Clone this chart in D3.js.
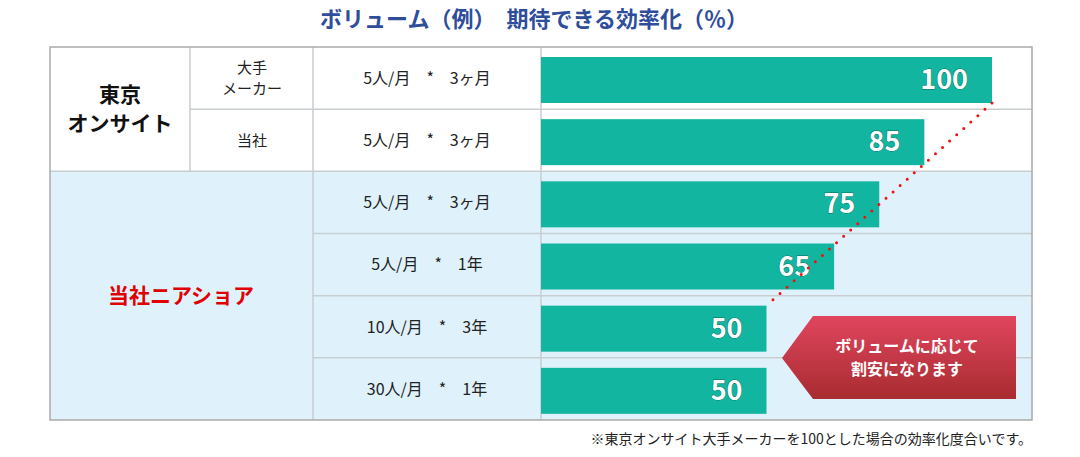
<!DOCTYPE html><html><head><meta charset="utf-8"><script src="https://cdn.jsdelivr.net/npm/d3@7"></script>
<style>body{margin:0;background:#fff}text{font-family:"Noto Sans CJK JP",sans-serif}</style></head><body><svg id="c" width="1080" height="457"></svg><script>
const groups=["東京\nオンサイト","当社ニアショア"];
const companies=["大手\nメーカー","当社","","","",""];
const conditions=["5人/月　*　3ヶ月","5人/月　*　3ヶ月","5人/月　*　3ヶ月","5人/月　*　1年","10人/月　*　3年","30人/月　*　1年"];
const values=[100,85,75,65,50,50];
const svg=d3.select("#c");
const rows=d3.range(values.length);
const y=d3.scaleBand().domain(rows).range([47,420]);
const x=d3.scaleLinear().domain([0,100]).range([541,992]);
const L=50,R=1032,c1=190,c2=313,c3=541;
svg.append("rect").attr("x",L).attr("y",y(2)).attr("width",R-L).attr("height",420-y(2)).attr("fill","#dff2fc");
const g=svg.append("g").attr("stroke","#c8cdd0").attr("stroke-width",1.5);
rows.slice(1).forEach(i=>{g.append("line").attr("x1",i<2?c1:c2).attr("x2",R).attr("y1",y(i)).attr("y2",y(i));});
g.append("line").attr("x1",L).attr("x2",c2).attr("y1",y(2)).attr("y2",y(2));
[[c1,47,y(2)],[c2,47,420],[c3,47,420]].forEach(d=>g.append("line").attr("x1",d[0]).attr("x2",d[0]).attr("y1",d[1]).attr("y2",d[2]));
g.append("rect").attr("x",L).attr("y",47).attr("width",R-L).attr("height",373).attr("fill","none").attr("stroke","#aaa");
svg.append("text").attr("x",534).attr("y",27).attr("text-anchor","middle").attr("font-size",22).attr("font-weight",700).attr("fill","#2e4d9b").text("ボリューム（例）　期待できる効率化（％）");
function ml(t,xx,yy,fs,col,fw,lh){const tx=svg.append("text").attr("x",xx).attr("text-anchor","middle").attr("font-size",fs).attr("fill",col).attr("font-weight",fw);const ls=t.split("\n");ls.forEach((s,k)=>tx.append("tspan").attr("x",xx).attr("y",yy+(k-(ls.length-1)/2)*fs*lh+fs*0.36).text(s));}
ml(groups[0],120,y(1),21,"#111",700,1.4);
ml(groups[1],181,(y(2)+420)/2,21,"#e00000",700,1.4);
companies.forEach((c,i)=>{if(c)ml(c,252,y(i)+y.bandwidth()/2,15,"#222",400,1.45);});
conditions.forEach((c,i)=>ml(c,427,y(i)+y.bandwidth()/2,16,"#222",400,1.3));
svg.selectAll(".bar").data(values).join("rect").attr("x",x(0)).attr("y",(d,i)=>y(i)+10).attr("width",d=>x(d)-x(0)).attr("height",46).attr("fill","#12b5a0");
svg.selectAll(".lab").data(values).join("text").attr("x",d=>x(d)-24).attr("y",(d,i)=>y(i)+42).attr("text-anchor","end").attr("font-size",27).attr("font-weight",700).attr("font-family","Roboto").attr("fill","#fff").attr("stroke","#0b6f62").attr("stroke-width",0.8).attr("paint-order","stroke").text(d=>d);
svg.append("line").attr("x1",x(values[0])).attr("y1",y(0)+56).attr("x2",x(values[4])).attr("y2",y(4)+10).attr("stroke","#ee1111").attr("stroke-width",3).attr("stroke-dasharray","0,9.5").attr("stroke-linecap","round");
const df=svg.append("defs").append("linearGradient").attr("id","gr").attr("x1",0).attr("x2",0).attr("y1",0).attr("y2",1);
df.append("stop").attr("offset",0).attr("stop-color","#e0455e");df.append("stop").attr("offset",1).attr("stop-color","#a82c30");
svg.append("path").attr("d","M782,358L813,316L1016,316L1016,399L813,399Z").attr("fill","url(#gr)");
ml("ボリュームに応じて\n割安になります",907,358,16,"#fff",700,1.45);
svg.append("text").attr("x",1032).attr("y",444).attr("text-anchor","end").attr("font-size",14).attr("fill","#222").text("※東京オンサイト大手メーカーを100とした場合の効率化度合いです。");
</script></body></html>
